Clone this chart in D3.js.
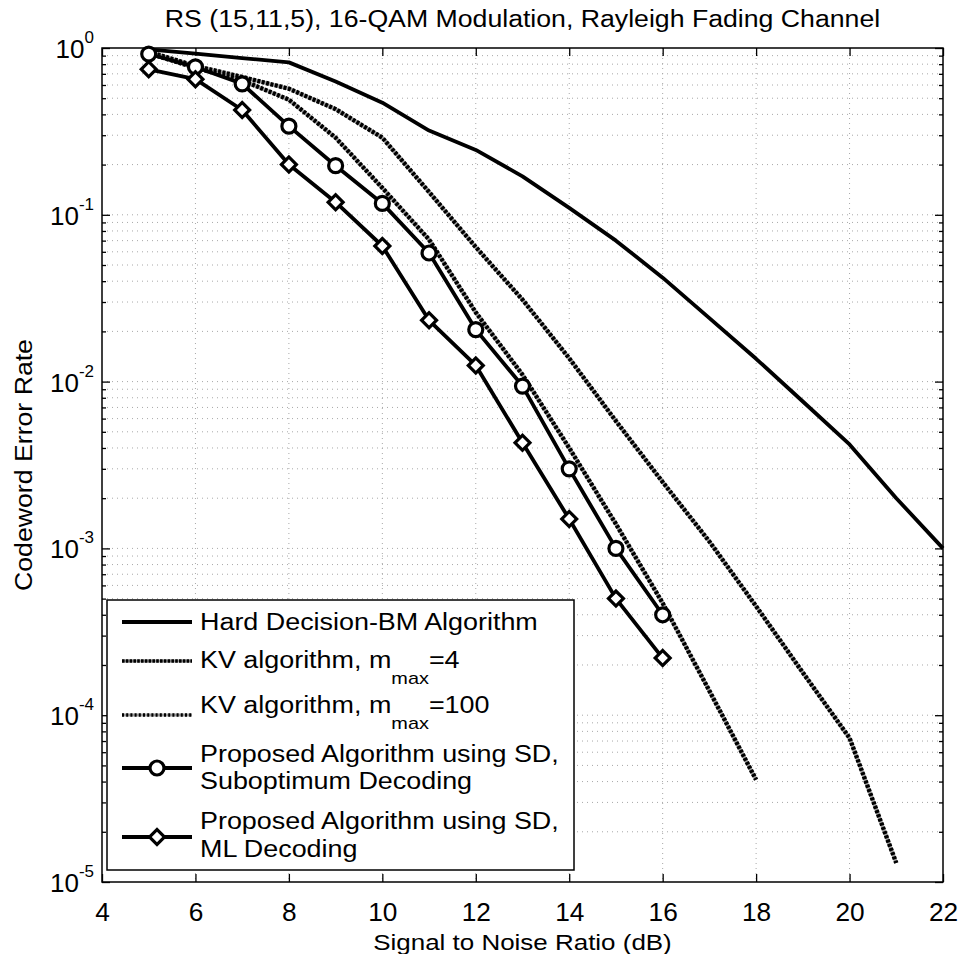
<!DOCTYPE html>
<html>
<head>
<meta charset="utf-8">
<script src="https://cdn.jsdelivr.net/npm/d3@7"></script>
<style>
  body { margin: 0; background: #fff; }
  text { font-family: "Liberation Sans", Arial, Helvetica, sans-serif; fill: #000; }
</style>
</head>
<body>
<div id="chart"></div>
<script>

  // Data (SNR in dB, codeword error rate)

  var hardSnr = [5, 6, 7, 8, 9, 10, 11, 12, 13, 14, 15, 16, 17, 18, 19, 20, 21, 22];
  var hardCer = [0.98, 0.925, 0.87, 0.82, 0.63, 0.47, 0.32, 0.245, 0.17, 0.11, 0.07, 0.042, 0.024, 0.0137, 0.0076, 0.0042, 0.002, 0.001];

  var kv4Snr = [5, 6, 7, 8, 9, 10, 11, 12, 13, 14, 15, 16, 17, 18, 19, 20, 21];
  var kv4Cer = [0.95, 0.78, 0.67, 0.57, 0.43, 0.29, 0.137, 0.064, 0.031, 0.0138, 0.0058, 0.0025, 0.0011, 4.5e-4, 1.8e-4, 7.3e-5, 1.3e-5];

  var kv100Snr = [5, 6, 7, 8, 9, 10, 11, 12, 13, 14, 15, 16, 17, 18];
  var kv100Cer = [0.93, 0.76, 0.64, 0.49, 0.29, 0.145, 0.071, 0.026, 0.011, 0.004, 0.0014, 4.7e-4, 1.4e-4, 4.1e-5];

  var subSnr = [5, 6, 7, 8, 9, 10, 11, 12, 13, 14, 15, 16];
  var subCer = [0.92, 0.77, 0.61, 0.34, 0.197, 0.117, 0.059, 0.0205, 0.0094, 0.003, 0.001, 4.0e-4];

  var mlSnr = [5, 6, 7, 8, 9, 10, 11, 12, 13, 14, 15, 16];
  var mlCer = [0.745, 0.65, 0.425, 0.2, 0.119, 0.065, 0.0233, 0.0125, 0.0043, 0.0015, 5.0e-4, 2.2e-4];

  var xTicks = [4, 6, 8, 10, 12, 14, 16, 18, 20, 22];
  var yExps = [0, -1, -2, -3, -4, -5];

  var width = 966,
      height = 954;
  var margin = {top: 48, right: 23, bottom: 72, left: 102};

  var svg = d3.select("#chart")
      .append("svg")
      .attr("width", width)
      .attr("height", height);

  // Scales

  var xScale = d3.scaleLinear()
      .domain([4, 22])
      .range([margin.left, width - margin.right]);

  var yScale = d3.scaleLog()
      .domain([1e-5, 1])
      .range([height - margin.bottom, margin.top]);

  var x0 = xScale.range()[0], x1 = xScale.range()[1];
  var y0 = yScale.range()[1], y1 = yScale.range()[0];

  var decades = yExps.map(function(e) { return Math.pow(10, e); });
  var minors = [];
  yExps.slice(1).forEach(function(e) {
    for (var m = 2; m <= 9; m++) minors.push(m * Math.pow(10, e));
  });

  // helper: text group, scaled horizontally (the scan's type is wide)
  function label(parent, x, y, size, sx, anchor) {
    return parent.append("g")
        .attr("transform", `translate(${x},${y}) scale(${sx},1)`)
      .append("text")
        .attr("font-size", size)
        .attr("text-anchor", anchor || "start");
  }

  // Grid

  var grid = svg.append("g")
      .attr("stroke", "#a8a8a8")
      .attr("stroke-width", 1)
      .attr("stroke-dasharray", "1,4");

  grid.selectAll(".vgrid")
      .data(xTicks.slice(1, -1))
      .enter().append("line")
      .attr("x1", d => xScale(d)).attr("x2", d => xScale(d))
      .attr("y1", y0).attr("y2", y1);

  grid.selectAll(".hgrid")
      .data(decades.slice(1, -1).concat(minors))
      .enter().append("line")
      .attr("y1", d => yScale(d)).attr("y2", d => yScale(d))
      .attr("x1", x0).attr("x2", x1);

  // Axes (ticks point inward, box on)

  var xAxis = svg.append("g")
      .attr("transform", `translate(0, ${y1})`)
      .call(d3.axisBottom(xScale).tickValues(xTicks).tickSize(-8).tickSizeOuter(0));
  xAxis.selectAll("text")
      .attr("y", 39)
      .attr("dy", null)
      .attr("font-size", 25)
      .attr("font-family", null)
      .attr("transform", "scale(1.05,1)");

  svg.append("g")
      .attr("transform", `translate(0, ${y0})`)
      .call(d3.axisTop(xScale).tickValues(xTicks).tickSize(-8).tickSizeOuter(0).tickFormat(""));

  svg.append("g")
      .attr("transform", `translate(${x0}, 0)`)
      .call(d3.axisLeft(yScale).tickValues(decades).tickSize(-8).tickSizeOuter(0).tickFormat(""));
  svg.append("g")
      .attr("transform", `translate(${x0}, 0)`)
      .call(d3.axisLeft(yScale).tickValues(minors).tickSize(-4).tickSizeOuter(0).tickFormat(""));
  svg.append("g")
      .attr("transform", `translate(${x1}, 0)`)
      .call(d3.axisRight(yScale).tickValues(decades).tickSize(-8).tickSizeOuter(0).tickFormat(""));
  svg.append("g")
      .attr("transform", `translate(${x1}, 0)`)
      .call(d3.axisRight(yScale).tickValues(minors).tickSize(-4).tickSizeOuter(0).tickFormat(""));

  svg.selectAll(".domain").remove();
  svg.selectAll(".tick line").attr("stroke", "#000").attr("stroke-width", 1.3);

  svg.append("rect")
      .attr("x", x0).attr("y", y0)
      .attr("width", x1 - x0).attr("height", y1 - y0)
      .attr("fill", "none")
      .attr("stroke", "#000")
      .attr("stroke-width", 1.5);

  // y tick labels 10^k

  yExps.forEach(function(e) {
    var t = label(svg, 94, yScale(Math.pow(10, e)) + 10, 26, 1, "end");
    t.append("tspan").text("10");
    t.append("tspan").attr("font-size", 17).attr("dy", -15).text(e);
  });

  // Title and axis labels

  label(svg, (x0 + x1) / 2, 27, 23, 1.16, "middle")
      .text("RS (15,11,5), 16-QAM Modulation, Rayleigh Fading Channel");

  label(svg, (x0 + x1) / 2, 950, 22, 1.18, "middle")
      .text("Signal to Noise Ratio (dB)");

  svg.append("g")
      .attr("transform", `translate(32, ${(y0 + y1) / 2}) rotate(-90) scale(1.16,1)`)
    .append("text")
      .attr("font-size", 23)
      .attr("text-anchor", "middle")
      .text("Codeword Error Rate");

  // Curves

  var line = d3.line()
      .x(d => xScale(d[0]))
      .y(d => yScale(d[1]));

  var plot = svg.append("g");

  function dotted(g, pts, dash) {
    g.append("path")
        .attr("d", line(pts))
        .attr("fill", "none")
        .attr("stroke", "#9a9a9a")
        .attr("stroke-width", 3.5);
    g.append("path")
        .attr("d", line(pts))
        .attr("fill", "none")
        .attr("stroke", "#000")
        .attr("stroke-width", 4.5)
        .attr("stroke-dasharray", dash);
  }

  function solid(g, pts) {
    g.append("path")
        .attr("d", line(pts))
        .attr("fill", "none")
        .attr("stroke", "#000")
        .attr("stroke-width", 3.8)
        .attr("stroke-linejoin", "round");
  }

  var hardPts = d3.zip(hardSnr, hardCer),
      kv4Pts = d3.zip(kv4Snr, kv4Cer),
      kv100Pts = d3.zip(kv100Snr, kv100Cer),
      subPts = d3.zip(subSnr, subCer),
      mlPts = d3.zip(mlSnr, mlCer);

  dotted(plot, kv4Pts, "3,1.5");
  dotted(plot, kv100Pts, "3,1.5");
  solid(plot, hardPts);
  solid(plot, subPts);
  solid(plot, mlPts);

  var diamond = d3.symbol().type(d3.symbolSquare).size(112);

  plot.selectAll(".circ")
      .data(subPts)
      .enter().append("circle")
      .attr("cx", d => xScale(d[0]))
      .attr("cy", d => yScale(d[1]))
      .attr("r", 7)
      .attr("fill", "#fff")
      .attr("stroke", "#000")
      .attr("stroke-width", 3.2);

  plot.selectAll(".diam")
      .data(mlPts)
      .enter().append("path")
      .attr("d", diamond)
      .attr("transform", d => `translate(${xScale(d[0])},${yScale(d[1])}) rotate(45)`)
      .attr("fill", "#fff")
      .attr("stroke", "#000")
      .attr("stroke-width", 3.2);

  // Legend

  var legend = svg.append("g");
  legend.append("rect")
      .attr("x", 107).attr("y", 600)
      .attr("width", 467).attr("height", 270)
      .attr("fill", "#fff")
      .attr("stroke", "#000")
      .attr("stroke-width", 1.5);

  var lx1 = 122, lx2 = 192, lmid = 157, tx = 200;

  function sampleLine(y, dash) {
    if (dash) {
      legend.append("line").attr("x1", lx1).attr("x2", lx2).attr("y1", y).attr("y2", y)
          .attr("stroke", "#9a9a9a").attr("stroke-width", 3);
      legend.append("line").attr("x1", lx1).attr("x2", lx2).attr("y1", y).attr("y2", y)
          .attr("stroke", "#000").attr("stroke-width", 3.5).attr("stroke-dasharray", dash);
    } else {
      legend.append("line").attr("x1", lx1).attr("x2", lx2).attr("y1", y).attr("y2", y)
          .attr("stroke", "#000").attr("stroke-width", 3.8);
    }
  }

  sampleLine(622);
  label(legend, tx, 630, 23, 1.17).text("Hard Decision-BM Algorithm");

  sampleLine(661, "2.6,1.2");
  var t4 = label(legend, tx, 668, 23, 1.17);
  t4.append("tspan").text("KV algorithm, m");
  t4.append("tspan").attr("font-size", 17).attr("dy", 16).text("max");
  t4.append("tspan").attr("dy", -16).text("=4");

  sampleLine(715, "2,2.2");
  var t100 = label(legend, tx, 713, 23, 1.17);
  t100.append("tspan").text("KV algorithm, m");
  t100.append("tspan").attr("font-size", 17).attr("dy", 16).text("max");
  t100.append("tspan").attr("dy", -16).text("=100");

  sampleLine(768);
  legend.append("circle")
      .attr("cx", lmid).attr("cy", 768).attr("r", 7)
      .attr("fill", "#fff").attr("stroke", "#000").attr("stroke-width", 3.2);
  label(legend, tx, 762, 23, 1.17).text("Proposed Algorithm using SD,");
  label(legend, tx, 789, 23, 1.17).text("Suboptimum Decoding");

  sampleLine(837);
  legend.append("path")
      .attr("d", diamond)
      .attr("transform", `translate(${lmid},837) rotate(45)`)
      .attr("fill", "#fff").attr("stroke", "#000").attr("stroke-width", 3.2);
  label(legend, tx, 829, 23, 1.17).text("Proposed Algorithm using SD,");
  label(legend, tx, 857, 23, 1.17).text("ML Decoding");

</script>
</body>
</html>
